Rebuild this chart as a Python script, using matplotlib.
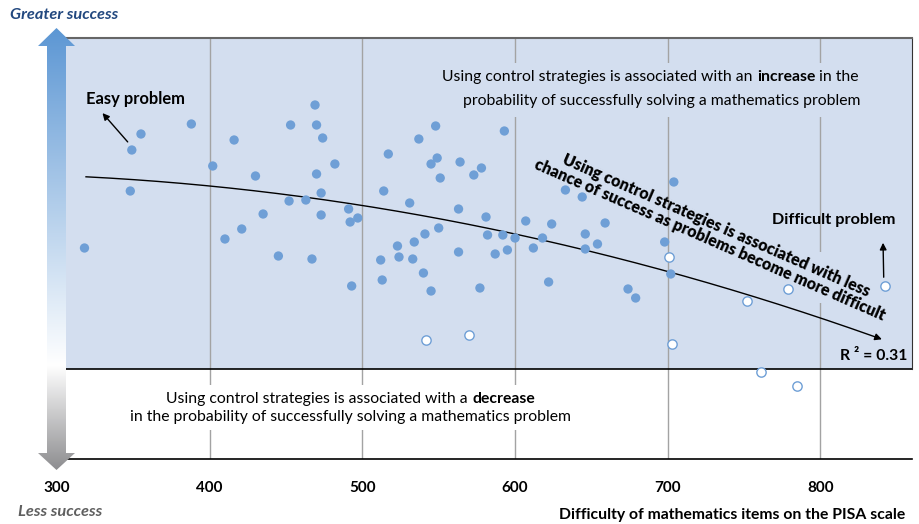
import numpy as np
import matplotlib
matplotlib.use("Agg")
import matplotlib.pyplot as plt
from matplotlib.patches import Polygon, Rectangle

# difficulty of item (PISA scale) and change in success probability, filled = significant
x_filled = [318, 349, 355, 348, 388, 402, 416, 430, 410, 421, 435, 445, 453, 469, 470, 474,
            482, 470, 473, 452, 463, 473, 467, 491, 492, 497, 493, 517, 514, 537, 548, 549,
            545, 551, 564, 578, 573, 593, 531, 563, 581, 550, 541, 534, 523, 524, 533, 512,
            513, 540, 545, 563, 582, 592, 600, 595, 587, 577, 704, 633, 644, 607, 624, 659,
            646, 618, 612, 654, 646, 698, 622, 674, 679, 702]
y_filled = [12.1, 21.9, 23.5, 17.8, 24.5, 20.3, 22.9, 19.3, 13.0, 14.0, 15.5, 11.3, 24.4, 26.4,
            24.4, 23.1, 20.5, 19.5, 17.6, 16.8, 16.9, 15.4, 11.0, 16.0, 14.7, 15.1, 8.3, 21.5,
            17.8, 23.0, 24.3, 21.1, 20.5, 19.1, 20.7, 20.1, 19.4, 23.8, 16.6, 16.0, 15.2, 14.1,
            13.5, 12.7, 12.3, 11.2, 11.0, 10.9, 8.9, 9.6, 7.8, 11.7, 13.4, 13.4, 13.1, 11.9,
            11.5, 8.1, 18.7, 17.9, 17.2, 14.8, 14.5, 14.6, 13.5, 13.1, 12.1, 12.5, 12.0, 12.7,
            8.7, 8.0, 7.1, 9.5]
x_open = [542, 570, 701, 752, 779, 842, 703, 761, 785]
y_open = [2.9, 3.4, 11.2, 6.8, 8.0, 8.3, 2.5, -0.3, -1.7]

# quadratic trend in u = (x - 600) / 100
trend_coef = [13.5, -3.3, -0.45]
trend_range = [319, 842]
r2 = 0.31

x_ticks = [300, 400, 500, 600, 700, 800]
easy_pt = (349, 21.9)
hard_pt = (842, 8.3)

panel = "#d3deef"
dot = "#6f9fd6"

plt.rcParams["font.family"] = ["Lato", "DejaVu Sans"]

fig = plt.figure(figsize=(9.2, 5.24), dpi=100)
ax = fig.add_axes([57 / 920, 65 / 524, 855 / 920, 421 / 524])
ax.set_xlim(300, 860)
ax.set_ylim(-9.0, 33.1)

ax.axhspan(0, 33.1, color=panel, zorder=0, lw=0)
for t in x_ticks[1:]:
    ax.axvline(t, color="#a3a3a3", lw=1, zorder=1)
ax.axhline(0, color="black", lw=1.2, zorder=2)

# masks where the gridlines stop behind the captions
ax.add_patch(Rectangle((557, 25.2), 262, 5.4, fc=panel, ec="none", zorder=1.5))
ax.add_patch(Rectangle((345, -6.1), 294, 4.5, fc="white", ec="none", zorder=1.5))
ax.add_patch(Rectangle((795, 6.6), 10, 5.1, fc=panel, ec="none", zorder=1.5))

ax.spines["left"].set_visible(False)
ax.spines["top"].set_color("#666666")
ax.spines["top"].set_linewidth(1.5)
ax.spines["right"].set_color("#333333")
ax.spines["right"].set_bounds(0, 33.1)
ax.spines["bottom"].set_color("black")
ax.spines["bottom"].set_linewidth(1.2)

ax.set_xticks(x_ticks)
ax.set_xticklabels([str(t) for t in x_ticks], fontweight="bold", fontsize=11)
ax.tick_params(axis="x", length=0, pad=16)
ax.set_yticks([])

# trend line
def trend(x):
    u = (np.asarray(x) - 600) / 100
    return trend_coef[0] + trend_coef[1] * u + trend_coef[2] * u ** 2

xs = np.linspace(trend_range[0], trend_range[1] - 4, 200)
ax.plot(xs, trend(xs), color="black", lw=1, zorder=3)
ax.annotate("", xy=(trend_range[1], trend(trend_range[1])),
            xytext=(trend_range[1] - 8, trend(trend_range[1] - 8)),
            arrowprops=dict(arrowstyle="-|>", color="black", lw=1, mutation_scale=10), zorder=3)

ax.scatter(x_filled, y_filled, s=45, color=dot, edgecolors="none", zorder=4)
ax.scatter(x_open, y_open, s=45, facecolors="white", edgecolors=dot, linewidths=1, zorder=4)

# annotations
ax.text(319, 26.5, "Easy problem", fontsize=11.9, fontweight="bold", va="baseline", zorder=5)
ax.annotate("", xy=(328.6, 25.8), xytext=(easy_pt[0] - 1.5, easy_pt[1] + 0.6),
            arrowprops=dict(arrowstyle="-|>", color="black", lw=1, mutation_scale=10), zorder=5)
ax.text(808.6, 14.5, "Difficult problem", fontsize=11.7, fontweight="bold", ha="center",
        va="baseline", zorder=5)
ax.annotate("", xy=(hard_pt[0] - 1, 12.9), xytext=(hard_pt[0] - 0.5, hard_pt[1] + 0.6),
            arrowprops=dict(arrowstyle="-|>", color="black", lw=1, mutation_scale=10), zorder=5)

ax.text(729.9, 13.6, "Using control strategies is associated with less\n"
        "chance of success as problems become more difficult",
        fontsize=11.5, fontweight="heavy", rotation=-23.6, rotation_mode="anchor",
        ha="center", va="center", multialignment="center", linespacing=1.0, zorder=5)

ax.text(857, 0.9, f"R ² = {r2:.2f}", fontsize=11.3, fontweight="bold",
        ha="right", va="baseline", zorder=5)

# mixed-weight sentences
def mixed(x, y, left, bold, right):
    mid = ax.text(x, y, bold, fontsize=11.3, fontweight="bold", ha="center", va="baseline",
                  zorder=5)
    ax.annotate(left, xy=(0, 0), xycoords=mid, ha="right", va="bottom", fontsize=11.3,
                zorder=5, annotation_clip=False)
    if right:
        ax.annotate(right, xy=(1, 0), xycoords=mid, ha="left", va="bottom", fontsize=11.3,
                    zorder=5, annotation_clip=False)

mixed(777.5, 28.8, "Using control strategies is associated with an ", "increase", " in the")
ax.text(696.0, 26.4, "probability of successfully solving a mathematics problem", fontsize=11.3,
        ha="center", va="baseline", zorder=5)
mixed(592.4, -3.4, "Using control strategies is associated with a ", "decrease", "")
ax.text(492.5, -5.2, "in the probability of successfully solving a mathematics problem",
        fontsize=11.3, ha="center", va="baseline", zorder=5)

# gradient arrow on the left
arr = fig.add_axes([0, 0, 1, 1], zorder=10)
arr.set_xlim(0, 920)
arr.set_ylim(524, 0)
arr.axis("off")
top, bot, split = 28, 470, 365
rows = np.arange(top, bot)
blue = np.array([0.36, 0.59, 0.83])
grey = np.array([0.55, 0.55, 0.56])
white = np.array([1.0, 1.0, 1.0])
grad = np.zeros((len(rows), 1, 3))
for i, r in enumerate(rows):
    if r < split:
        t = (r - top) / (split - top)
        grad[i, 0] = blue * (1 - t) + white * t
    else:
        t = (r - split) / (bot - split)
        grad[i, 0] = white * (1 - t) + grey * t
im = arr.imshow(grad, extent=(38, 75, bot, top), aspect="auto", interpolation="bilinear")
shape = Polygon([(56.5, top), (75, 46), (66, 46), (66, 453), (75, 453), (56.5, bot),
                 (38, 453), (47, 453), (47, 46), (38, 46)], closed=True, fc="none", ec="none",
                transform=arr.transData)
arr.add_patch(shape)
im.set_clip_path(shape)

fig.text(10 / 920, 1 - 19 / 524, "Greater success", fontsize=11.8, fontweight="bold",
         fontstyle="italic", color="#22487f", va="baseline")
fig.text(18 / 920, 8 / 524, "Less success", fontsize=11.8, fontweight="bold",
         fontstyle="italic", color="#5f5f5f", va="baseline")
fig.text(905 / 920, 5 / 524, "Difficulty of mathematics items on the PISA scale", fontsize=11.3,
         fontweight="bold", ha="right", va="baseline")

fig.savefig("out.png", dpi=100)
